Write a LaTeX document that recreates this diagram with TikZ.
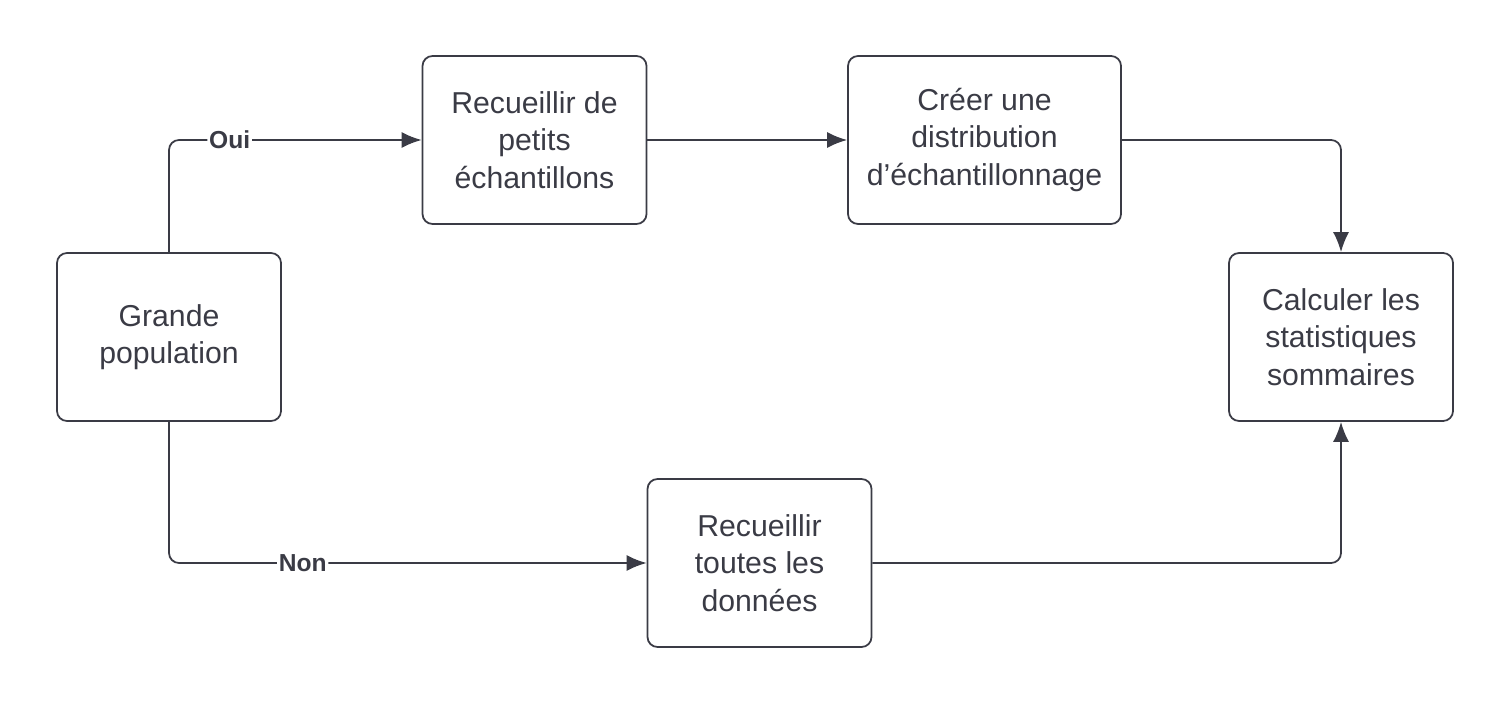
\documentclass[tikz,border=0pt]{standalone}
\usepackage{fontspec}
\setmainfont{Liberation Sans}
\usetikzlibrary{arrows.meta,positioning}
\definecolor{linegray}{HTML}{3A3B45}
\tikzset{
	>={Latex[length=2mm,width=1.6mm]},
	box/.style = {
			draw=linegray, rectangle, rounded corners=1mm, line width=0.5pt,
			minimum height=1.68cm, minimum width=2.24cm, align=center,
			font=\fontsize{8.6}{10.6}\selectfont, text=linegray,
		},
	link/.style = {->, draw=linegray, line width=0.5pt, rounded corners=1mm},
	answer/.style = {fill=white, inner sep=0.5pt, font=\bfseries\fontsize{7}{8}\selectfont, text=linegray},
}
\begin{document}
\begin{tikzpicture}
						\useasboundingbox (0,0) rectangle (15.1,7.04);

						\node[box] at (1.69,3.67) (population) {Grande\\population};
						\node[box] at (5.345,5.64) (petits) {Recueillir de\\petits\\échantillons};
						\node[box, minimum width=2.73cm] at (9.845,5.64) (distribution) {Créer une\\distribution\\d’échantillonnage};
						\node[box] at (13.41,3.67) (calcul) {Calculer les\\statistiques\\sommaires};
						\node[box] at (7.595,1.41) (toutes) {Recueillir\\toutes les\\données};

						\draw[link] (population.north) |- (petits.west) node[answer, pos=0.62] {Oui};
						\draw[link] (population.south) |- (toutes.west) node[answer, pos=0.64] {Non};
						\draw[link] (petits) -- (distribution);
						\draw[link] (distribution.east) -| (calcul.north);
						\draw[link] (toutes.east) -| (calcul.south);
					\end{tikzpicture}
\end{document}
